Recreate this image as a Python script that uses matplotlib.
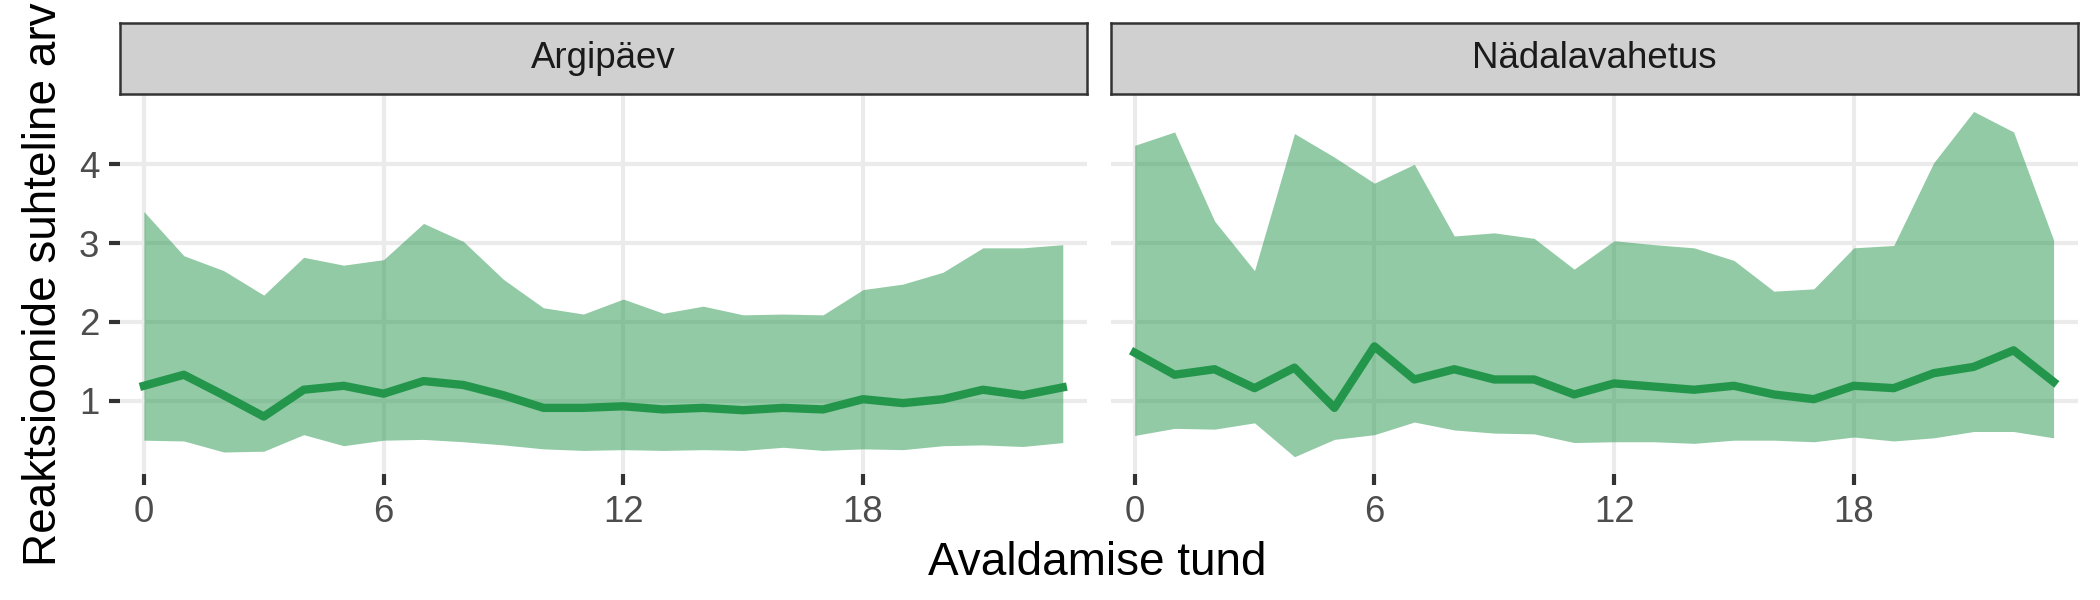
import numpy as np
import matplotlib
matplotlib.use("Agg")
import matplotlib.pyplot as plt

plt.rcParams['font.family'] = ['Liberation Sans', 'DejaVu Sans']

# avaldamise tund 0..23
hours = list(range(24))
panels = ["Argipäev", "Nädalavahetus"]

# Argipäev
wd_mean = [1.19, 1.33, 1.07, 0.80, 1.14, 1.19, 1.09, 1.25, 1.20, 1.07, 0.91, 0.91,
           0.93, 0.89, 0.91, 0.88, 0.91, 0.89, 1.02, 0.97, 1.02, 1.14, 1.07, 1.17]
wd_low = [0.50, 0.49, 0.35, 0.36, 0.57, 0.43, 0.50, 0.51, 0.48, 0.44, 0.39, 0.37,
          0.38, 0.37, 0.38, 0.37, 0.41, 0.37, 0.39, 0.38, 0.43, 0.44, 0.42, 0.47]
wd_high = [3.40, 2.84, 2.65, 2.34, 2.82, 2.72, 2.79, 3.25, 3.02, 2.54, 2.18, 2.10,
           2.29, 2.11, 2.20, 2.09, 2.10, 2.09, 2.41, 2.48, 2.63, 2.94, 2.94, 2.98]

# Nädalavahetus
we_mean = [1.61, 1.33, 1.40, 1.16, 1.42, 0.91, 1.69, 1.27, 1.40, 1.27, 1.27, 1.08,
           1.22, 1.18, 1.14, 1.19, 1.08, 1.02, 1.19, 1.16, 1.35, 1.43, 1.64, 1.24]
we_low = [0.56, 0.65, 0.64, 0.72, 0.29, 0.51, 0.57, 0.73, 0.63, 0.59, 0.58, 0.47,
          0.48, 0.48, 0.46, 0.50, 0.50, 0.48, 0.54, 0.49, 0.53, 0.61, 0.61, 0.53]
we_high = [4.24, 4.41, 3.28, 2.65, 4.39, 4.09, 3.76, 4.00, 3.09, 3.13, 3.06, 2.67,
           3.03, 2.98, 2.94, 2.78, 2.39, 2.42, 2.94, 2.97, 4.02, 4.67, 4.41, 3.04]

green = "#24964B"

fig = plt.figure(figsize=(7, 2), dpi=300)

bottom, top = 0.210, 0.843
lefts = [0.0571, 0.5289]
width = 0.4604
data = [(wd_mean, wd_low, wd_high), (we_mean, we_low, we_high)]

axes = []
for i, (name, (m, lo, hi)) in enumerate(zip(panels, data)):
    ax = fig.add_axes([lefts[i], bottom, width, top - bottom],
                      sharey=axes[0] if axes else None)
    axes.append(ax)
    ax.fill_between(hours, lo, hi, color=green, alpha=0.5, linewidth=0, zorder=2)
    ax.plot(hours, m, color=green, linewidth=2.0, zorder=3)
    ax.set_xlim(-0.6, 23.6)
    ax.set_xticks([0, 6, 12, 18])
    ax.set_yticks([1, 2, 3, 4])
    ax.grid(True, color="#EBEBEB", linewidth=1.0, zorder=0)
    ax.set_axisbelow(True)
    for s in ax.spines.values():
        s.set_visible(False)
    ax.tick_params(axis="both", colors="#333333", labelcolor="#4D4D4D",
                   labelsize=8.8, length=2.75, width=1.0, pad=2.2)
    if i == 1:
        ax.tick_params(axis="y", length=0, labelleft=False)

    # facet strip
    sax = fig.add_axes([lefts[i], top, width, 0.961 - top])
    sax.set_facecolor("#D0D0D0")
    sax.set_xticks([])
    sax.set_yticks([])
    for s in sax.spines.values():
        s.set_color("#333333")
        s.set_linewidth(0.6)
    sax.text(0.5, 0.5, name, ha="center", va="center", fontsize=8.8,
             color="#1A1A1A", transform=sax.transAxes)

axes[0].margins(y=0.05)

fig.text(0.5226, 0.0417, "Avaldamise tund", ha="center", va="baseline",
         fontsize=11, color="black")
fig.text(0.021, (bottom + top) / 2, "Reaktsioonide suhteline arv", rotation=90,
         ha="center", va="center", fontsize=11, color="black")

fig.savefig("out.png", dpi=300)
